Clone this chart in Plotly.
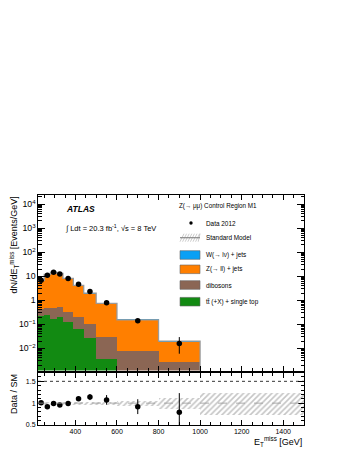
import plotly.graph_objects as go
from plotly.subplots import make_subplots

# binning (GeV)
edges = [220, 250, 280, 310, 340, 390, 440, 500, 600, 800, 1000]
band_edges = edges + [1500]

# stacked backgrounds, events/GeV
ttbar = [0.22, 0.24, 0.17, 0.21, 0.125, 0.064, 0.027, 0.0037, 0.0012, 0.0003]
dibosons = [0.20, 0.26, 0.29, 0.31, 0.205, 0.136, 0.073, 0.027, 0.0066, 0.0025]
zll = [6.27, 11.49, 14.32, 12.47, 7.76, 4.0, 1.9, 0.72, 0.144, 0.0172]
wlnu = [0.01, 0.015, 0.015, 0.012, 0.008, 0.004, 0.002, 0.0008, 0.0002, 0.00003]

# data 2012
data = [6.8, 11.0, 14.7, 12.5, 8.0, 4.6, 2.3, 0.80, 0.14, 0.016]
data_err_up = [0.15, 0.25, 0.3, 0.3, 0.2, 0.15, 0.12, 0.06, 0.027, 0.0135]
data_err_dn = [0.15, 0.25, 0.3, 0.3, 0.2, 0.15, 0.12, 0.06, 0.027, 0.010]

# ratio panel
ratio = [1.01, 0.92, 0.99, 0.96, 0.99, 1.10, 1.14, 1.075, 0.92, 0.79]
ratio_err = [0.03, 0.025, 0.025, 0.025, 0.03, 0.045, 0.07, 0.11, 0.17, 0.44]
sm_err = [0.035, 0.03, 0.03, 0.03, 0.03, 0.03, 0.035, 0.04, 0.05, 0.12, 0.25]
ref_lines = [1.0, 1.5]

COLORS = {
    "ttbar": "#128a12",
    "dibosons": "#8b6654",
    "zll": "#ff7f00",
    "wlnu": "#0aa0f5",
}
FONT = "Liberation Sans, Arial, sans-serif"

centers = [(a + b) / 2 for a, b in zip(edges[:-1], edges[1:])]
widths = [b - a for a, b in zip(edges[:-1], edges[1:])]
band_centers = [(a + b) / 2 for a, b in zip(band_edges[:-1], band_edges[1:])]
band_widths = [b - a for a, b in zip(band_edges[:-1], band_edges[1:])]
total = [a + b + c + d for a, b, c, d in zip(ttbar, dibosons, zll, wlnu)]

fig = make_subplots(
    rows=2, cols=1, shared_xaxes=True, row_heights=[0.77, 0.23], vertical_spacing=0.009
)

for name, vals in [("ttbar", ttbar), ("dibosons", dibosons), ("zll", zll), ("wlnu", wlnu)]:
    fig.add_trace(
        go.Bar(
            x=centers,
            y=vals,
            width=widths,
            marker=dict(color=COLORS[name], line=dict(width=0)),
            showlegend=False,
        ),
        row=1,
        col=1,
    )

# total SM outline
fig.add_trace(
    go.Scatter(
        x=edges + [edges[-1]],
        y=total + [total[-1], 1e-6],
        mode="lines",
        line=dict(color="#9a9a9a", width=1.3, shape="hv"),
        showlegend=False,
    ),
    row=1,
    col=1,
)

fig.add_trace(
    go.Scatter(
        x=centers,
        y=data,
        mode="markers",
        marker=dict(color="black", size=5.5),
        error_y=dict(
            type="data", array=data_err_up, arrayminus=data_err_dn,
            color="black", thickness=1, width=0,
        ),
        showlegend=False,
    ),
    row=1,
    col=1,
)

# ratio: SM uncertainty band
fig.add_trace(
    go.Bar(
        x=band_centers,
        y=[2 * e for e in sm_err],
        base=[1 - e for e in sm_err],
        width=band_widths,
        marker=dict(
            color="rgba(0,0,0,0)",
            line=dict(width=0),
            pattern=dict(shape="/", fgcolor="#8c8c8c", size=4, solidity=0.4),
        ),
        showlegend=False,
    ),
    row=2,
    col=1,
)
fig.add_trace(
    go.Scatter(
        x=centers,
        y=ratio,
        mode="markers",
        marker=dict(color="black", size=5.5),
        error_y=dict(type="data", array=ratio_err, color="black", thickness=1, width=0),
        showlegend=False,
    ),
    row=2,
    col=1,
)

for val, dash, col in zip(ref_lines, ["dash", "dot"], ["#999999", "black"]):
    fig.add_shape(
        type="line", xref="x2 domain", yref="y2", x0=0, x1=1, y0=val, y1=val,
        line=dict(color=col, width=0.8, dash=dash),
    )

axis_common = dict(
    showline=True, linecolor="black", linewidth=1, mirror="ticks",
    ticks="inside", tickcolor="black", showgrid=False, zeroline=False,
    tickfont=dict(family=FONT, size=7, color="black"),
)
fig.update_xaxes(
    range=[220, 1500], dtick=200, tick0=0, ticklen=5,
    minor=dict(ticks="inside", ticklen=3, dtick=50, tickcolor="black"),
    **axis_common,
)
fig.update_xaxes(showticklabels=False, row=1, col=1)
fig.update_yaxes(
    type="log", range=[-2.92, 4.38], dtick=1, exponentformat="power", ticklen=7,
    minor=dict(ticks="inside", ticklen=3.5, tickcolor="black", dtick="D1"),
    row=1, col=1, **axis_common,
)
fig.update_yaxes(
    range=[0.5, 1.7], tickvals=[0.5, 1, 1.5], ticktext=["0.5", "1", "1.5"], ticklen=6,
    minor=dict(ticks="inside", ticklen=3, dtick=0.1, tickcolor="black"),
    row=2, col=1, **axis_common,
)

# page body has an 8px offset; plot area lands at x 38..304, y 195..425
fig.update_layout(
    width=341,
    height=443,
    margin=dict(l=30, r=45, t=187, b=26),
    barmode="stack",
    bargap=0,
    plot_bgcolor="white",
    paper_bgcolor="white",
    font=dict(family=FONT, color="black"),
    showlegend=False,
)


def px(x):
    return (x - 38) / 266


def py(y):
    return (425 - y) / 230


ann = [
    dict(text="<b><i>ATLAS</i></b>", x=px(64), y=py(209), size=8.5),
    dict(text="∫ Ldt = 20.3 fb<sup>-1</sup>, √s = 8 TeV", x=px(63), y=py(228), size=7.5),
    dict(text="Z(→ μμ) Control Region M1", x=px(177), y=py(206), size=6.3),
]
for a in ann:
    fig.add_annotation(
        text=a["text"], x=a["x"], y=a["y"], xref="paper", yref="paper",
        xanchor="left", yanchor="middle", showarrow=False,
        font=dict(family=FONT, size=a["size"], color="black"),
    )

# legend drawn by hand (ROOT style)
legend_items = [
    ("Data 2012", "data", 223),
    ("Standard Model", "sm", 237.7),
    ("W(→ lν) + jets", "wlnu", 255),
    ("Z(→ ll) + jets", "zll", 269.3),
    ("dibosons", "dibosons", 285),
    ("tt̄ (+X) + single top", "ttbar", 301.7),
]
for label, key, yc in legend_items:
    fig.add_annotation(
        text=label, x=px(204), y=py(yc), xref="paper", yref="paper",
        xanchor="left", yanchor="middle", showarrow=False,
        font=dict(family=FONT, size=6.4, color="black"),
    )
    if key == "data":
        fig.add_shape(
            type="circle", xref="paper", yref="paper",
            x0=px(189.3), x1=px(192.7), y0=py(yc + 1.7), y1=py(yc - 1.7),
            fillcolor="black", line=dict(width=0),
        )
    elif key == "sm":
        for k in range(8):
            x0 = 180 + k * 2.6
            fig.add_shape(
                type="line", xref="paper", yref="paper",
                x0=px(x0), x1=px(min(x0 + 4, 200)), y0=py(yc + 4), y1=py(yc - 4),
                line=dict(color="#aaaaaa", width=0.6),
            )
        fig.add_shape(
            type="line", xref="paper", yref="paper",
            x0=px(180), x1=px(200), y0=py(yc), y1=py(yc),
            line=dict(color="#888888", width=1.2),
        )
    else:
        fig.add_shape(
            type="rect", xref="paper", yref="paper",
            x0=px(180), x1=px(200), y0=py(yc + 4.3), y1=py(yc - 4.3),
            fillcolor=COLORS[key], line=dict(color="#666666", width=0.6),
        )

fig.add_annotation(
    text="dN/dE<sub>T</sub><sup>miss</sup> [Events/GeV]", x=px(14), y=1.0,
    xref="paper", yref="paper", xanchor="center", yanchor="top", textangle=-90,
    showarrow=False, font=dict(family=FONT, size=9, color="black"),
)
fig.add_annotation(
    text="Data / SM", x=px(14), y=py(372), xref="paper", yref="paper",
    xanchor="center", yanchor="top", textangle=-90,
    showarrow=False, font=dict(family=FONT, size=9, color="black"),
)
fig.add_annotation(
    text="E<sub>T</sub><sup>miss</sup> [GeV]", x=1.0, y=py(441), xref="paper", yref="paper",
    xanchor="right", yanchor="middle", showarrow=False,
    font=dict(family=FONT, size=9, color="black"),
)

fig.write_html("out.html")
